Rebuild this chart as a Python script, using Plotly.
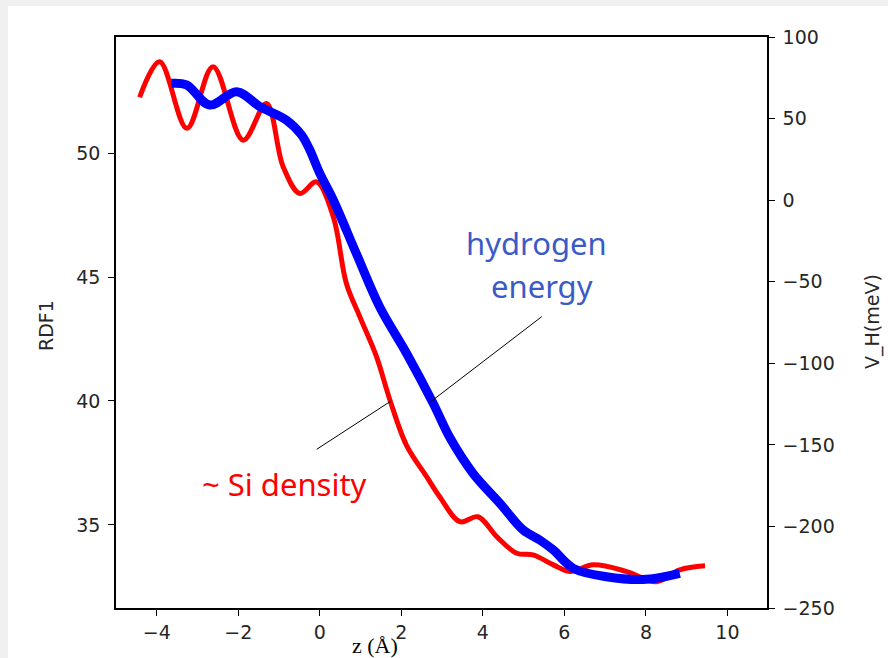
import plotly.graph_objects as go

# ---- data ----
z_rdf = [-4.42, -3.93, -3.26, -2.62, -1.88, -1.31, -0.90, -0.49, -0.08, 0.33, 0.65,
         0.98, 1.39, 1.72, 2.13, 2.62, 2.94, 3.44, 3.88, 4.34, 4.83, 5.23, 5.73,
         6.13, 6.71, 7.53, 8.26, 8.83, 9.45]
rdf1 = [52.25, 53.68, 51.0, 53.48, 50.52, 52.0, 49.45, 48.37, 48.84, 47.43, 44.75,
        43.4, 41.79, 40.04, 38.2, 36.95, 36.14, 35.13, 35.33, 34.53, 33.86, 33.79, 33.39,
        33.12, 33.39, 33.12, 32.71, 33.19, 33.35]

z_vh = [-3.64, -3.27, -2.70, -2.04, -1.47, -0.82, -0.45, -0.25, 0.0, 0.33, 0.90,
        1.47, 2.13, 2.78, 3.20, 3.76, 4.42, 4.99, 5.40, 5.73, 6.22, 7.03, 8.01, 8.83]
v_h = [71.6, 70.6, 58.3, 66.5, 57.3, 49.1, 40.0, 31.0, 16.4, 0.1, -33.0,
       -65.5, -94.0, -124.5, -146.0, -167.5, -185.9, -202.2, -208.4, -214.5, -225.7,
       -230.8, -232.4, -228.8]

x_ticks = [-4, -2, 0, 2, 4, 6, 8, 10]
y1_ticks = [35, 40, 45, 50]
y2_ticks = [100, 50, 0, -50, -100, -150, -200, -250]

# ---- layout geometry (pixels) ----
W, H = 888, 658
L, R, T, B = 116, 767, 37, 608


def px(x):
    return (x - L) / (R - L)


def py(y):
    return (B - y) / (B - T)


fig = go.Figure()
fig.add_trace(go.Scatter(x=z_rdf, y=rdf1, mode="lines", yaxis="y",
                         line=dict(color="#ff0000", width=5, shape="spline", smoothing=1.0),
                         showlegend=False, hoverinfo="skip"))
fig.add_trace(go.Scatter(x=z_vh, y=v_h, mode="lines", yaxis="y2",
                         line=dict(color="#0000ff", width=9, shape="spline", smoothing=1.0),
                         showlegend=False, hoverinfo="skip"))

tickfont = dict(family="DejaVu Sans", size=19, color="#262626")
axis_common = dict(showgrid=False, zeroline=False, showline=True, linecolor="#000000",
                   linewidth=1.5, ticks="outside", ticklen=6, tickwidth=1.3,
                   tickcolor="#000000", tickfont=tickfont)

fig.update_layout(
    width=W, height=H,
    margin=dict(l=L, r=W - R, t=T, b=H - B, pad=0),
    paper_bgcolor="#f0f0f0",
    plot_bgcolor="#ffffff",
    xaxis=dict(range=[-5.0, 10.97], tickvals=x_ticks, mirror=True, **axis_common),
    yaxis=dict(range=[31.65, 54.68], tickvals=y1_ticks, ticklabelstandoff=4, **axis_common),
    yaxis2=dict(range=[-250, 100], tickvals=y2_ticks, overlaying="y", side="right",
                ticklabelstandoff=4, **axis_common),
    shapes=[
        dict(type="rect", xref="paper", yref="paper", x0=px(8), x1=px(W + 5),
             y0=py(H + 5), y1=py(6), fillcolor="#ffffff", line=dict(width=0), layer="below"),
        dict(type="line", xref="paper", yref="paper", x0=px(316.7), y0=py(449.3),
             x1=px(391), y1=py(401), line=dict(color="#000000", width=1)),
        dict(type="line", xref="paper", yref="paper", x0=px(429), y0=py(403),
             x1=px(541.7), y1=py(316.7), line=dict(color="#000000", width=1)),
    ],
    annotations=[
        dict(text="RDF1", xref="paper", yref="paper", x=px(46), y=py(326), textangle=-90,
             showarrow=False, xanchor="center", yanchor="middle",
             font=dict(family="DejaVu Sans", size=19, color="#262626")),
        dict(text="V_H(meV)", xref="paper", yref="paper", x=px(872), y=py(322), textangle=-90,
             showarrow=False, xanchor="center", yanchor="middle",
             font=dict(family="DejaVu Sans", size=19, color="#262626")),
        dict(text="z (Å)", xref="paper", yref="paper", x=px(375), y=py(645),
             showarrow=False, xanchor="center", yanchor="middle",
             font=dict(family="Liberation Serif", size=22, color="#000000")),
        dict(text="hydrogen", xref="paper", yref="paper", x=px(536.5), y=py(243),
             showarrow=False, xanchor="center", yanchor="middle",
             font=dict(family="Noto Sans", size=31, color="#3a5bc7")),
        dict(text="energy", xref="paper", yref="paper", x=px(541.5), y=py(286),
             showarrow=False, xanchor="center", yanchor="middle",
             font=dict(family="Noto Sans", size=31, color="#3a5bc7")),
        dict(text="~ Si density", xref="paper", yref="paper", x=px(284.5), y=py(484),
             showarrow=False, xanchor="center", yanchor="middle",
             font=dict(family="Noto Sans", size=31, color="#ff0000")),
    ],
)

fig.write_html("out.html")
